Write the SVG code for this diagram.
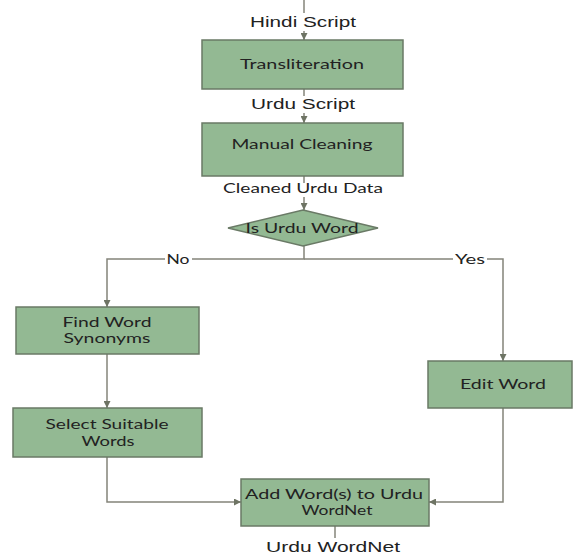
<svg xmlns="http://www.w3.org/2000/svg" width="574" height="556" viewBox="0 0 574 556">
<defs>
<marker id="ah" viewBox="0 0 10 10" refX="10" refY="5" markerWidth="7" markerHeight="7" markerUnits="userSpaceOnUse" orient="auto">
<path d="M0,0 L10,5 L0,10 z" fill="#6e7464"/>
</marker>
<style>
.box{fill:#93b993;stroke:#6a7a66;stroke-width:1.5}
.c{fill:none;stroke:#84847a;stroke-width:1.5}
.t{font-family:Lato,"Open Sans",sans-serif;font-size:14px;fill:#222;text-anchor:middle}
.a{font-family:"Liberation Sans",Arial,sans-serif;font-size:14px;fill:#222;text-anchor:middle}
</style>
</defs>
<rect width="574" height="556" fill="#fff"/>
<g id="connectors">
<path class="c" d="M304,0 V13"/>
<path class="c" d="M304,31 V40" marker-end="url(#ah)"/>
<path class="c" d="M304,89 V96"/>
<path class="c" d="M304,113 V123" marker-end="url(#ah)"/>
<path class="c" d="M304,176 V183"/>
<path class="c" d="M304,197 V210" marker-end="url(#ah)"/>
<path class="c" d="M304,246 V259 H107 V307" marker-end="url(#ah)"/>
<path class="c" d="M304,259 H503 V361" marker-end="url(#ah)"/>
<path class="c" d="M107,354 V408" marker-end="url(#ah)"/>
<path class="c" d="M107,457 V502 H241" marker-end="url(#ah)"/>
<path class="c" d="M503,408 V502 H429" marker-end="url(#ah)"/>
<path class="c" d="M335,526 V538"/>
<rect x="165" y="253" width="27" height="12" fill="#fff"/>
<rect x="453" y="253" width="34" height="12" fill="#fff"/>
<text class="t" x="178" y="264" textLength="23" lengthAdjust="spacingAndGlyphs">No</text>
<text class="t" x="470" y="264" textLength="30" lengthAdjust="spacingAndGlyphs">Yes</text>
<text class="a" x="303" y="27" textLength="106" lengthAdjust="spacingAndGlyphs">Hindi Script</text>
<text class="a" x="303" y="109" textLength="104" lengthAdjust="spacingAndGlyphs">Urdu Script</text>
<text class="t" x="303" y="193" textLength="160" lengthAdjust="spacingAndGlyphs">Cleaned Urdu Data</text>
<text class="a" x="333" y="552" textLength="134" lengthAdjust="spacingAndGlyphs">Urdu WordNet</text>
</g>
<g id="transliteration">
<rect class="box" x="202" y="40" width="201" height="49"/>
<text class="t" x="302" y="69" textLength="124" lengthAdjust="spacingAndGlyphs">Transliteration</text>
</g>
<g id="manual-cleaning">
<rect class="box" x="202" y="123" width="201" height="53"/>
<text class="t" x="302" y="149" textLength="141" lengthAdjust="spacingAndGlyphs">Manual Cleaning</text>
</g>
<g id="is-urdu-word">
<polygon class="box" points="303,210 378,228 303,246 228,228"/>
<text class="t" x="302" y="233" textLength="113" lengthAdjust="spacingAndGlyphs">Is Urdu Word</text>
</g>
<g id="find-synonyms">
<rect class="box" x="16" y="307" width="183" height="47"/>
<text class="t" x="107" y="327" textLength="89" lengthAdjust="spacingAndGlyphs">Find Word</text>
<text class="t" x="107" y="343" textLength="87" lengthAdjust="spacingAndGlyphs">Synonyms</text>
</g>
<g id="select-words">
<rect class="box" x="13" y="408" width="189" height="49"/>
<text class="t" x="107" y="429" textLength="123" lengthAdjust="spacingAndGlyphs">Select Suitable</text>
<text class="t" x="108" y="446" textLength="53" lengthAdjust="spacingAndGlyphs">Words</text>
</g>
<g id="edit-word">
<rect class="box" x="428" y="361" width="144" height="47"/>
<text class="t" x="503" y="389" textLength="86" lengthAdjust="spacingAndGlyphs">Edit Word</text>
</g>
<g id="add-words">
<rect class="box" x="241" y="479" width="188" height="47"/>
<text class="t" x="334" y="499" textLength="178" lengthAdjust="spacingAndGlyphs">Add Word(s) to Urdu</text>
<text class="t" x="337" y="515" textLength="71" lengthAdjust="spacingAndGlyphs">WordNet</text>
</g>
</svg>
